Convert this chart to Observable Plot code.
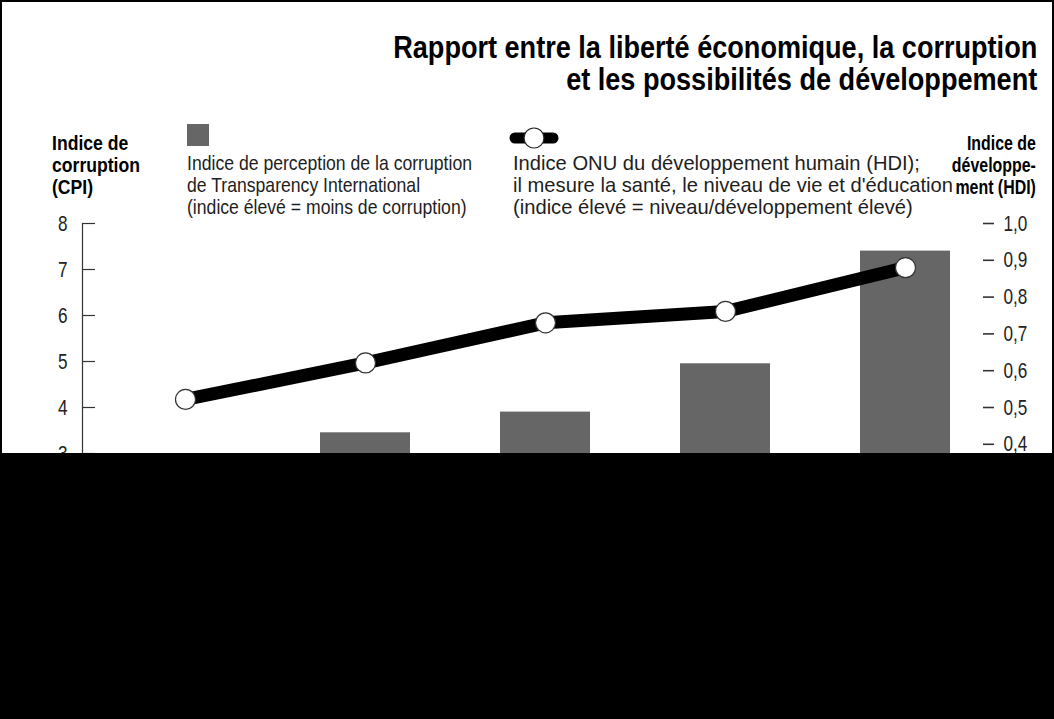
<!DOCTYPE html>
<html><head><meta charset="utf-8">
<script src="https://cdn.jsdelivr.net/npm/d3@7"></script>
<script src="https://cdn.jsdelivr.net/npm/@observablehq/plot@0.6"></script>
<style>
body{margin:0;background:#fff;}
#wrap{position:relative;width:1054px;height:719px;overflow:hidden;font-family:"Liberation Sans",Arial,sans-serif;color:#111;}
#chart{position:absolute;left:0;top:0;}
#chart svg{overflow:visible;}
.fit{position:absolute;white-space:nowrap;}
.title{right:17px;top:32px;text-align:right;font-weight:bold;font-size:31px;line-height:32px;color:#000;transform-origin:right center;}
.axt{top:132px;font-weight:bold;font-size:21px;line-height:22px;color:#000;}
.leg{top:152px;font-size:21px;line-height:22px;color:#1e1e1e;transform-origin:left center;}
#sq{position:absolute;left:187px;top:124px;width:22px;height:22px;background:#666;}
#lsym{position:absolute;left:508px;top:126px;}
#mask{position:absolute;left:0;top:453px;width:1054px;height:266px;background:#000;}
#frame{position:absolute;left:0;top:0;width:1054px;height:719px;box-sizing:border-box;border:2px solid #000;pointer-events:none;}
</style>
</head><body>
<div id="wrap">
  <div id="chart"></div>
  <div class="fit title" data-w="644">Rapport entre la liberté économique, la corruption<br>et les possibilités de développement</div>
  <div class="fit axt" data-w="88" style="left:52px;transform-origin:left center;">Indice de<br>corruption<br>(CPI)</div>
  <div class="fit axt" data-w="84" style="right:18px;text-align:right;transform-origin:right center;">Indice de<br>développe-<br>ment (HDI)</div>
  <div id="sq"></div>
  <div class="fit leg" data-w="285" style="left:187px;">Indice de perception de la corruption<br>de Transparency International<br>(indice élevé = moins de corruption)</div>
  <svg id="lsym" width="52" height="24" viewBox="0 0 52 24">
    <line x1="7" y1="12" x2="45" y2="12" stroke="#000" stroke-width="11" stroke-linecap="round"/>
    <circle cx="26" cy="12" r="10" fill="#fff" stroke="#222" stroke-width="1.2"/>
  </svg>
  <div class="fit leg" data-w="440" style="left:513px;">Indice ONU du développement humain (HDI);<br>il mesure la santé, le niveau de vie et d'éducation<br>(indice élevé = niveau/développement élevé)</div>
  <div id="mask"></div>
  <div id="frame"></div>
</div>
<script>
// Groups of countries by economic freedom (labels hidden in the reference)
const groups = ["Groupe 1", "Groupe 2", "Groupe 3", "Groupe 4", "Groupe 5"];
const cpiValues = [2.5, 3.45, 3.9, 4.95, 7.4];
const hdiValues = [0.522, 0.621, 0.73, 0.761, 0.88];
const cpiTicks = [0, 1, 2, 3, 4, 5, 6, 7, 8];
const hdiTicks = [0.0, 0.1, 0.2, 0.3, 0.4, 0.5, 0.6, 0.7, 0.8, 0.9, 1.0];
const hdiToCpi = 8; // HDI 1,0 aligns with CPI 8

const data = groups.map((g, i) => ({group: g, cpi: cpiValues[i], hdi: hdiValues[i]}));

const chart = Plot.plot({
  width: 1054,
  height: 719,
  marginLeft: 50,
  marginRight: 14,
  marginTop: 223,
  marginBottom: 128,
  style: {fontFamily: '"Liberation Sans",Arial,sans-serif', color: "#222", background: "transparent"},
  x: {type: "band", domain: groups, paddingInner: 0.5, paddingOuter: 0.5, axis: null},
  y: {domain: [0, 8]},
  marks: [
    Plot.barY(data, {x: "group", y: "cpi", fill: "#666"}),
    Plot.frame({anchor: "left", dx: 32, stroke: "#333", strokeWidth: 1.2}),
    Plot.axisY({anchor: "left", ticks: cpiTicks, tickSize: -13, tickPadding: 28, dx: 32, fontSize: 22, label: null, stroke: "#333", strokeWidth: 1.2, tickFormat: d => String(d)}),
    Plot.axisY({anchor: "right", ticks: hdiTicks.map(d => d * hdiToCpi), tickSize: 11, tickPadding: 10, dx: -58, fontSize: 22, label: null, stroke: "#333", strokeWidth: 1.6,
      tickFormat: d => (d / hdiToCpi).toFixed(1).replace(".", ",")}),
    Plot.line(data, {x: "group", y: d => d.hdi * hdiToCpi, stroke: "#000", strokeWidth: 13}),
    Plot.dot(data, {x: "group", y: d => d.hdi * hdiToCpi, r: 10, fill: "#fff", stroke: "#333", strokeWidth: 1.2})
  ]
});
document.getElementById("chart").appendChild(chart);

// condense text blocks horizontally to the reference's narrow type
document.querySelectorAll(".fit").forEach(el => {
  const w = el.getBoundingClientRect().width;
  const target = +el.dataset.w;
  if (w > 0) el.style.transform = `scaleX(${target / w})`;
});
// condense the SVG tick labels in the same way
chart.querySelectorAll("text").forEach(t => {
  const tr = t.getAttribute("transform");
  if (tr) t.setAttribute("transform", tr + " scale(0.78,1)");
});
</script>
</body></html>
